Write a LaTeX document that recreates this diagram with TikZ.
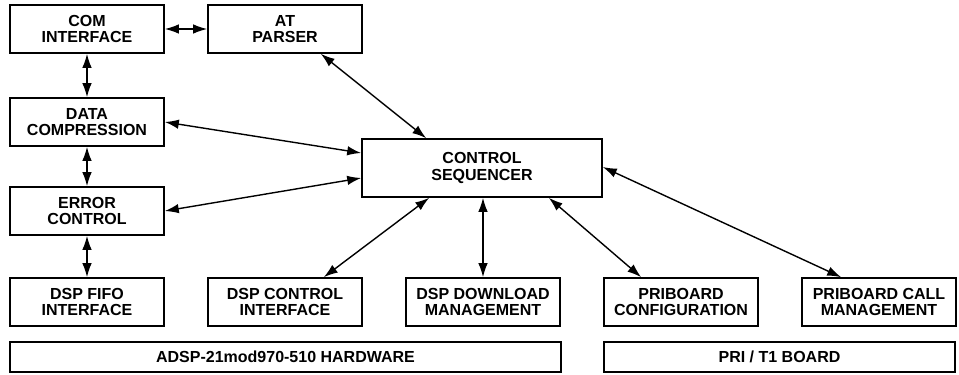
\documentclass[tikz,border=0pt]{standalone}
\usepackage{fontspec}
\setmainfont{Liberation Sans}
\usetikzlibrary{arrows.meta}

\begin{document}
\begin{tikzpicture}[x=1pt, y=-1pt,
    box/.style={draw, line width=1.6pt, minimum width=154pt, minimum height=48pt, align=center, inner sep=0pt,
        font=\bfseries\fontsize{16}{16.5}\selectfont},
    bar/.style={box, minimum height=30pt},
    link/.style={line width=1.4pt, {Latex[length=14pt,width=9.5pt]}-{Latex[length=14pt,width=9.5pt]}}]
            \useasboundingbox (0, 0) rectangle (959, 375);
            \node[box] (com) at (87, 29) {COM\\INTERFACE};
            \node[box] (at) at (285, 29) {AT\\PARSER};
            \node[box] (data) at (87, 122) {DATA\\COMPRESSION};
            \node[box] (err) at (87, 211) {ERROR\\CONTROL};
            \node[box, minimum width=240pt, minimum height=58pt] (seq) at (482, 168) {CONTROL\\SEQUENCER};
            \node[box] (fifo) at (87, 302) {DSP FIFO\\INTERFACE};
            \node[box] (dspctl) at (285, 302) {DSP CONTROL\\INTERFACE};
            \node[box] (dspdl) at (483, 302) {DSP DOWNLOAD\\MANAGEMENT};
            \node[box] (pricfg) at (681, 302) {PRIBOARD\\CONFIGURATION};
            \node[box] (pricall) at (879, 302) {PRIBOARD CALL\\MANAGEMENT};
            \node[bar, minimum width=551pt] (hw) at (285.5, 357) {ADSP-21mod970-510 HARDWARE};
            \node[bar, minimum width=351pt] (pri) at (779.5, 357) {PRI / T1 BOARD};
            \draw[link] (com) -- (at);
            \draw[link] (com) -- (data);
            \draw[link] (data) -- (err);
            \draw[link] (err) -- (fifo);
            \draw[link] ([xshift=-42pt]at.south east) -- ([xshift=65pt]seq.north west);
            \draw[link] (data.east) -- ([yshift=15pt]seq.west);
            \draw[link] (err.east) -- ([yshift=-10pt]seq.west);
            \draw[link] ([xshift=-39pt]dspctl.north east) -- ([xshift=68pt]seq.south west);
            \draw[link] (dspdl.north) -- (dspdl.north |- seq.south);
            \draw[link] ([xshift=38pt]pricfg.north west) -- ([xshift=-54pt]seq.south east);
            \draw[link] ([xshift=40pt]pricall.north west) -- ([yshift=1pt]seq.east);
        \end{tikzpicture}
\end{document}
